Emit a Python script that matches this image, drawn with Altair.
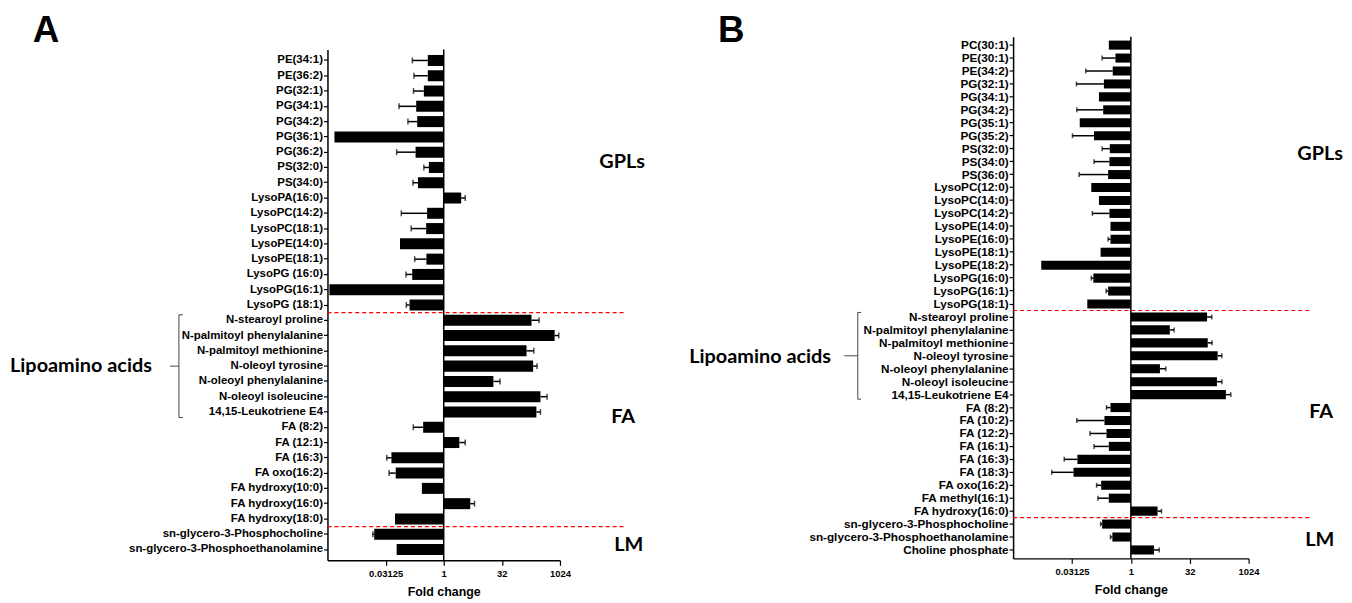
import altair as alt
import pandas as pd

a_names = ["PE(34:1)", "PE(36:2)", "PG(32:1)", "PG(34:1)", "PG(34:2)", "PG(36:1)",
           "PG(36:2)", "PS(32:0)", "PS(34:0)", "LysoPA(16:0)", "LysoPC(14:2)",
           "LysoPC(18:1)", "LysoPE(14:0)", "LysoPE(18:1)", "LysoPG (16:0)",
           "LysoPG(16:1)", "LysoPG (18:1)", "N-stearoyl proline",
           "N-palmitoyl phenylalanine", "N-palmitoyl methionine", "N-oleoyl tyrosine",
           "N-oleoyl phenylalanine", "N-oleoyl isoleucine", "14,15-Leukotriene E4",
           "FA (8:2)", "FA (12:1)", "FA (16:3)", "FA oxo(16:2)", "FA hydroxy(10:0)",
           "FA hydroxy(16:0)", "FA hydroxy(18:0)", "sn-glycero-3-Phosphocholine",
           "sn-glycero-3-Phosphoethanolamine"]
a_log2_fc = [-1.37, -1.37, -1.71, -2.37, -2.28, -9.4, -2.42, -1.28, -2.22, 1.5,
             -1.43, -1.51, -3.76, -1.49, -2.71, -9.83, -2.94, 7.55, 9.54, 7.12,
             7.69, 4.27, 8.32, 7.97, -1.77, 1.34, -4.5, -4.13, -1.88, 2.28, -4.19,
             -5.98, -4.05]
a_log2_err = [-2.7, -2.56, -2.6, -3.85, -3.08, None, -4.05, -1.71, -2.65, 1.85,
              -3.65, -2.8, None, -2.5, -3.25, None, -3.22, 8.2, 9.9, 7.75, 8.03,
              4.84, 8.89, 8.32, -2.62, 1.85, -4.9, -4.7, None, 2.65, None, -6.1, None]

b_names = ["PC(30:1)", "PE(30:1)", "PE(34:2)", "PG(32:1)", "PG(34:1)", "PG(34:2)",
           "PG(35:1)", "PG(35:2)", "PS(32:0)", "PS(34:0)", "PS(36:0)", "LysoPC(12:0)",
           "LysoPC(14:0)", "LysoPC(14:2)", "LysoPE(14:0)", "LysoPE(16:0)",
           "LysoPE(18:1)", "LysoPE(18:2)", "LysoPG(16:0)", "LysoPG(16:1)",
           "LysoPG(18:1)", "N-stearoyl proline", "N-palmitoyl phenylalanine",
           "N-palmitoyl methionine", "N-oleoyl tyrosine", "N-oleoyl phenylalanine",
           "N-oleoyl isoleucine", "14,15-Leukotriene E4", "FA (8:2)", "FA (10:2)",
           "FA (12:2)", "FA (16:1)", "FA (16:3)", "FA (18:3)", "FA oxo(16:2)",
           "FA methyl(16:1)", "FA hydroxy(16:0)", "sn-glycero-3-Phosphocholine",
           "sn-glycero-3-Phosphoethanolamine", "Choline phosphate"]
b_log2_fc = [-1.87, -1.31, -1.54, -2.29, -2.71, -2.35, -4.34, -3.13, -1.79, -1.82,
             -1.93, -3.36, -2.71, -1.82, -1.73, -1.73, -2.57, -7.61, -3.19, -1.93,
             -3.7, 6.47, 3.31, 6.53, 7.37, 2.47, 7.31, 8.07, -1.73, -2.24, -2.07,
             -1.87, -4.54, -4.87, -2.52, -1.87, 2.27, -2.44, -1.57, 1.96]
b_log2_err = [None, -2.44, -3.83, -4.62, None, -4.59, None, -4.96, -2.44, -3.13,
              -4.39, None, None, -3.27, None, -1.93, None, None, -3.36, -2.1, None,
              6.87, 3.67, 6.9, 7.73, 2.97, 7.73, 8.49, -2.07, -4.59, -3.47, -3.13,
              -5.66, -6.72, -2.91, -2.8, 2.6, -2.57, -1.73, 2.41]

x_tick_values = [0.03125, 1, 32, 1024]
baseline = [1]

LAB = "Liberation Sans"
GRP = "Lato"


def panel(names, fc, err, letter, letter_x, width, height, yrange, pin, pout,
          label_size, cap, groups, lipo, brace, red_names, red_end):
    step = (yrange[1] - yrange[0]) / (len(names) - pin + 2 * pout)
    half = step * (1 - pin) / 2
    gap = step * pin / 2

    df = pd.DataFrame({"name": names, "l": fc, "e": err})
    xs = alt.Scale(type="log", base=2, domain=[2 ** -10, 2 ** 10], nice=False)
    ys = alt.Scale(domain=names, range=yrange, paddingInner=pin, paddingOuter=pout)
    yax = alt.Axis(title=None, labelFont=LAB, labelFontSize=label_size,
                   labelFontWeight="bold", labelColor="black", tickColor="black",
                   tickSize=4, tickWidth=1.2, domainColor="black", domainWidth=1.5,
                   labelPadding=1, labelLimit=400)
    xax = alt.Axis(values=x_tick_values, format="~g", title="Fold change",
                   labelFont=LAB, labelFontSize=9.5, labelFontWeight="bold",
                   labelColor="black", titleFont=LAB, titleFontSize=12.5,
                   titleFontWeight="bold", titleColor="black", tickColor="black",
                   tickSize=5, tickWidth=1.2, domainColor="black", domainWidth=1.5,
                   labelPadding=3, titlePadding=8, grid=False, labelFlush=False)

    def Y(field="name"):
        return alt.Y(f"{field}:N", scale=ys, axis=yax)

    def X(field):
        return alt.X(f"{field}:Q", scale=xs, axis=xax)

    bars = (alt.Chart(df)
            .transform_calculate(fc="pow(2, datum.l)")
            .mark_bar(color="black")
            .encode(y=Y(), x=X("fc"), x2=alt.datum(1)))

    ebase = (alt.Chart(df)
             .transform_filter("isValid(datum.e)")
             .transform_calculate(fc="pow(2, datum.l)", fe="pow(2, datum.e)"))
    erule = ebase.mark_rule(color="black", strokeWidth=1.5).encode(
        y=Y(), x=X("fc"), x2="fe:Q")
    ecap = ebase.mark_tick(color="black", thickness=1.5, size=cap).encode(
        y=Y(), x=X("fe"))

    center = (alt.Chart(pd.DataFrame({"one": baseline}))
              .mark_rule(color="black", strokeWidth=1.5)
              .encode(x=X("one"), y=alt.value(yrange[0]), y2=alt.value(yrange[1])))

    red = (alt.Chart(pd.DataFrame({"name": red_names}))
           .mark_rule(color="red", strokeDash=[4, 3], strokeWidth=1.2,
                      yOffset=-(half + gap))
           .encode(y=Y(), x=alt.value(0), x2=alt.value(red_end)))

    layers = [bars, erule, ecap, center, red]

    for cat, label, gx, gdy in groups:
        layers.append(
            alt.Chart(pd.DataFrame({"name": [cat], "t": [label]}))
            .mark_text(font=GRP, fontSize=20, fontWeight="bold", align="left",
                       baseline="middle", dy=gdy, color="black")
            .encode(y=Y(), x=alt.value(gx), text="t:N"))

    lcat, ltext, lx, ldy = lipo
    layers.append(
        alt.Chart(pd.DataFrame({"name": [lcat], "t": [ltext]}))
        .mark_text(font=GRP, fontSize=20, fontWeight="bold", align="left",
                   baseline="middle", dy=ldy, color="black")
        .encode(y=Y(), x=alt.value(lx), text="t:N"))

    top, mid, bot, xv, xh, xm = brace
    bcol = "#444444"
    layers.append(
        alt.Chart(pd.DataFrame({"name": [top], "name2": [bot]}))
        .mark_rule(color=bcol, strokeWidth=1, yOffset=-half, y2Offset=half)
        .encode(y=Y(), y2="name2:N", x=alt.value(xv)))
    layers.append(
        alt.Chart(pd.DataFrame({"name": [top]}))
        .mark_rule(color=bcol, strokeWidth=1, yOffset=-half)
        .encode(y=Y(), x=alt.value(xv), x2=alt.value(xh)))
    layers.append(
        alt.Chart(pd.DataFrame({"name": [bot]}))
        .mark_rule(color=bcol, strokeWidth=1, yOffset=half)
        .encode(y=Y(), x=alt.value(xv), x2=alt.value(xh)))
    layers.append(
        alt.Chart(pd.DataFrame({"name": [mid]}))
        .mark_rule(color=bcol, strokeWidth=1)
        .encode(y=Y(), x=alt.value(xm), x2=alt.value(xv)))

    layers.append(
        alt.Chart(pd.DataFrame({"t": [letter]}))
        .mark_text(font=LAB, fontSize=37, fontWeight="bold", align="left",
                   baseline="alphabetic", color="black")
        .encode(text="t:N", x=alt.value(letter_x), y=alt.value(5)))

    return alt.layer(*layers).properties(width=width, height=height)


panel_a = panel(
    a_names, a_log2_fc, a_log2_err, "A", -296.5, 234, 527, [13, 527], 0.28, 0.35,
    11.5, 6,
    groups=[("PS(32:0)", "GPLs", 273.5, -5),
            ("14,15-Leukotriene E4", "FA", 285.5, 5),
            ("sn-glycero-3-Phosphoethanolamine", "LM", 288.5, -5)],
    lipo=("N-oleoyl tyrosine", "Lipoamino acids", -319.5, 0),
    brace=("N-stearoyl proline", "N-oleoyl tyrosine", "14,15-Leukotriene E4",
           -149.5, -145.5, -158.5),
    red_names=["N-stearoyl proline", "sn-glycero-3-Phosphocholine"], red_end=300.5)

panel_b = panel(
    b_names, b_log2_fc, b_log2_err, "B", -297, 237, 525, [0, 525], 0.3, 0.3,
    11.8, 5,
    groups=[("PS(32:0)", "GPLs", 286, 5),
            ("FA (8:2)", "FA", 298, 4),
            ("sn-glycero-3-Phosphoethanolamine", "LM", 294, 3)],
    lipo=("N-oleoyl tyrosine", "Lipoamino acids", -326, 1),
    brace=("N-stearoyl proline", "N-oleoyl tyrosine", "14,15-Leukotriene E4",
           -156.3, -153, -170),
    red_names=["N-stearoyl proline", "sn-glycero-3-Phosphocholine"], red_end=299)

chart = (alt.hconcat(panel_a, panel_b, spacing=456, bounds="flush")
         .configure_view(stroke=None)
         .properties(padding={"left": 1.5, "top": 2, "right": 0, "bottom": 0}))

chart.save("out.html", embed_options={"renderer": "svg", "actions": False})
